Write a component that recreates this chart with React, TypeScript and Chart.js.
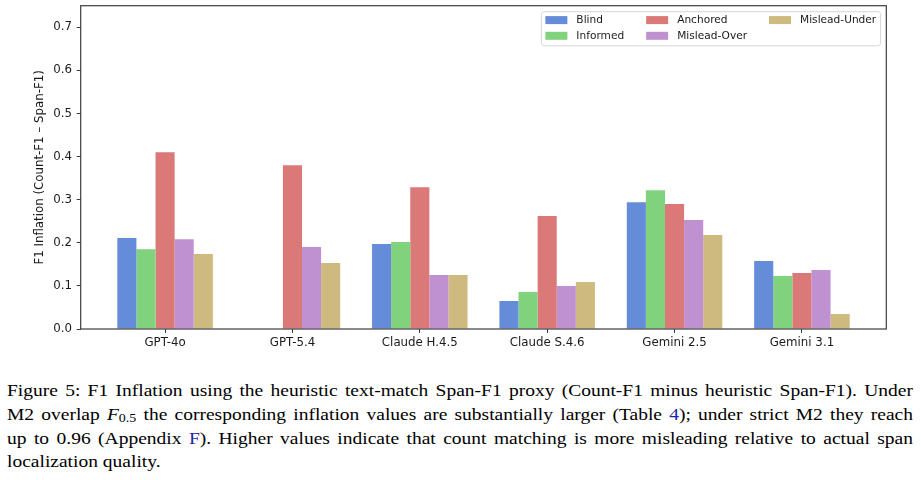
import React, { useEffect, useRef } from "react";
import { Chart, registerables } from "chart.js";

Chart.register(...registerables);

const categories = ["GPT-4o", "GPT-5.4", "Claude H.4.5", "Claude S.4.6", "Gemini 2.5", "Gemini 3.1"];
const seriesNames = ["Blind", "Informed", "Anchored", "Mislead-Over", "Mislead-Under"];
const blind = [0.211, 0.0, 0.197, 0.065, 0.294, 0.158];
const informed = [0.185, 0.0, 0.202, 0.086, 0.322, 0.123];
const anchored = [0.41, 0.38, 0.329, 0.262, 0.29, 0.13];
const misleadOver = [0.208, 0.19, 0.125, 0.1, 0.253, 0.137];
const misleadUnder = [0.174, 0.153, 0.125, 0.109, 0.218, 0.035];
const seriesValues = [blind, informed, anchored, misleadOver, misleadUnder];
const seriesColors = ["#648cd8", "#80d27c", "#db7878", "#c091d0", "#ceb97e"];
const yTicks = [0, 0.1, 0.2, 0.3, 0.4, 0.5, 0.6, 0.7];
const yMax = 0.75;
const xMin = -0.6625;
const xMax = 5.6625;
const yTitle = "F1 Inflation (Count-F1 \u2013 Span-F1)";

const FONT = '"DejaVu Sans", sans-serif';

const framePlugin = {
  id: "frame",
  afterDatasetsDraw(chart: any) {
    const { ctx, chartArea } = chart;
    ctx.save();
    ctx.strokeStyle = "#3c3c3c";
    ctx.lineWidth = 1.2;
    ctx.strokeRect(chartArea.left, chartArea.top, chartArea.right - chartArea.left, chartArea.bottom - chartArea.top);
    ctx.restore();
  },
};

const legendPlugin = {
  id: "mplLegend",
  afterDraw(chart: any) {
    const { ctx, chartArea } = chart;
    const rows = 2;
    const fontSize = 10.6;
    const swW = 22;
    const swH = 8;
    const gapText = 9;
    const colGap = 22;
    const padL = 4;
    const padR = 4.5;
    ctx.save();
    ctx.font = `${fontSize}px ${FONT}`;
    const cols: number[][] = [];
    seriesNames.forEach((_, i) => {
      const c = Math.floor(i / rows);
      if (!cols[c]) cols[c] = [];
      cols[c].push(i);
    });
    const colWidths = cols.map((c) => swW + gapText + Math.max(...c.map((i) => ctx.measureText(seriesNames[i]).width)));
    const totalW = padL + padR + colWidths.reduce((a, b) => a + b, 0) + colGap * (cols.length - 1);
    const right = chartArea.right - 5.6;
    const left = right - totalW;
    const top = chartArea.top + 6;
    const row0 = top + 8.4;
    const rowStep = 15.7;
    const bottom = row0 + rowStep * (rows - 1) + 10;
    const r = 3;
    ctx.beginPath();
    ctx.moveTo(left + r, top);
    ctx.lineTo(right - r, top);
    ctx.quadraticCurveTo(right, top, right, top + r);
    ctx.lineTo(right, bottom - r);
    ctx.quadraticCurveTo(right, bottom, right - r, bottom);
    ctx.lineTo(left + r, bottom);
    ctx.quadraticCurveTo(left, bottom, left, bottom - r);
    ctx.lineTo(left, top + r);
    ctx.quadraticCurveTo(left, top, left + r, top);
    ctx.closePath();
    ctx.fillStyle = "rgba(255,255,255,0.85)";
    ctx.fill();
    ctx.strokeStyle = "#d6d6d6";
    ctx.lineWidth = 1;
    ctx.stroke();
    let x = left + padL;
    cols.forEach((c, ci) => {
      c.forEach((i, ri) => {
        const cy = row0 + ri * rowStep;
        ctx.fillStyle = seriesColors[i];
        ctx.fillRect(x, cy - swH / 2, swW, swH);
        ctx.fillStyle = "#1a1a1a";
        ctx.textBaseline = "middle";
        ctx.textAlign = "left";
        ctx.fillText(seriesNames[i], x + swW + gapText, cy);
      });
      x += colWidths[ci] + colGap;
    });
    ctx.restore();
  },
};

function BarChart() {
  const ref = useRef<HTMLCanvasElement | null>(null);
  useEffect(() => {
    if (!ref.current) return;
    const chart = new Chart(ref.current, {
      type: "bar",
      data: {
        datasets: seriesNames.map((name, si) => ({
          label: name,
          data: seriesValues[si].map((v, i) => ({ x: i, y: v })),
          backgroundColor: seriesColors[si],
          borderWidth: 0,
          categoryPercentage: 0.75,
          barPercentage: 1,
        })),
      },
      options: {
        animation: false,
        responsive: false,
        layout: { padding: { top: 5.7, right: 34.7, left: 0, bottom: 0 } },
        plugins: {
          legend: { display: false },
          tooltip: { enabled: false },
          title: { display: false },
        },
        scales: {
          x: {
            type: "linear",
            min: xMin,
            max: xMax,
            offset: false,
            afterBuildTicks: (s: any) => {
              s.ticks = categories.map((_, i) => ({ value: i }));
            },
            ticks: {
              callback: (v: any) => categories[v] ?? "",
              font: { family: FONT, size: 11.8 },
              color: "#1a1a1a",
              padding: 3,
              autoSkip: false,
              maxRotation: 0,
            },
            grid: { offset: false, drawOnChartArea: false, drawTicks: true, tickLength: 4, color: "#3c3c3c", lineWidth: 1 },
            border: { display: false },
            afterFit: (s: any) => {
              s.height = 33;
              s.paddingLeft = 0;
              s.paddingRight = 0;
            },
          },
          y: {
            type: "linear",
            min: 0,
            max: yMax,
            afterBuildTicks: (s: any) => {
              s.ticks = yTicks.map((v) => ({ value: v }));
            },
            ticks: {
              callback: (v: any) => Number(v).toFixed(1),
              font: { family: FONT, size: 11.8 },
              color: "#1a1a1a",
              padding: 4.7,
            },
            grid: { drawOnChartArea: false, drawTicks: true, tickLength: 4, color: "#3c3c3c", lineWidth: 1 },
            border: { display: false },
            title: {
              display: true,
              text: yTitle,
              font: { family: FONT, size: 11.8 },
              color: "#1a1a1a",
              padding: { top: 33, bottom: 0 },
            },
            afterFit: (s: any) => {
              s.width = 80.7;
              s.paddingTop = 0;
              s.paddingBottom = 0;
            },
          },
        },
      } as any,
      plugins: [framePlugin, legendPlugin],
    });
    return () => chart.destroy();
  }, []);
  return <canvas ref={ref} width={921} height={362} style={{ display: "block", width: 921, height: 362 }} />;
}

const blue = { color: "#1f1fa8" };
const justify: any = { textAlign: "justify", textAlignLast: "justify" };

export default function App() {
  useEffect(() => {
    document.body.style.margin = "0";
    document.body.style.overflow = "hidden";
    document.documentElement.style.overflow = "hidden";
  }, []);
  return (
    <div style={{ width: 921, height: 480, background: "#fff", overflow: "hidden" }}>
      <BarChart />
      <div
        style={{
          fontFamily: '"Liberation Serif", "Times New Roman", serif',
          fontSize: 19.5,
          lineHeight: "26.3px",
          color: "#000",
          marginTop: 16.9,
          marginLeft: 7,
          width: 906,
          transform: "scaleY(0.9)",
          transformOrigin: "top left",
        }}
      >
        <div style={justify}>
          Figure 5: F1 Inflation using the heuristic text-match Span-F1 proxy (Count-F1 minus heuristic Span-F1). Under
        </div>
        <div style={justify}>
          M2 overlap <i>F</i>
          <span style={{ fontSize: 14, verticalAlign: -3, lineHeight: 0 }}>0.5</span> the corresponding inflation values are
          substantially larger (Table <span style={blue}>4</span>); under strict M2 they reach
        </div>
        <div style={justify}>
          up to 0.96 (Appendix <span style={blue}>F</span>). Higher values indicate that count matching is more misleading
          relative to actual span
        </div>
        <div>localization quality.</div>
      </div>
    </div>
  );
}
